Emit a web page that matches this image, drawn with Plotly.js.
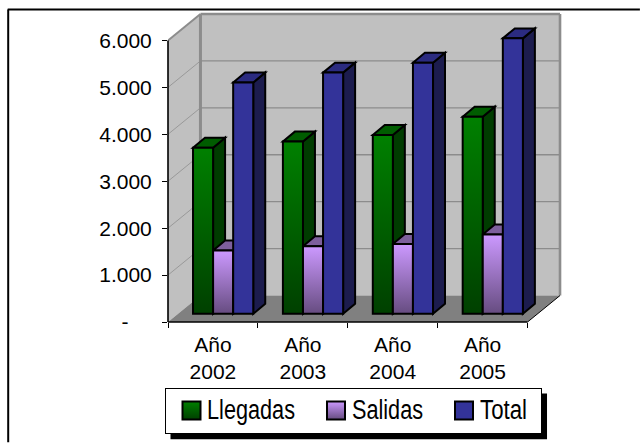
<!DOCTYPE html>
<html><head><meta charset="utf-8">
<script src="https://cdn.plot.ly/plotly-3.0.1.min.js"></script>
<style>html,body{margin:0;padding:0;background:#fff;overflow:hidden}#c{width:640px;height:443px}</style>
</head><body><div id="c"></div>
<script>
// ---- data
const categories = ['Año<br>2002','Año<br>2003','Año<br>2004','Año<br>2005'];
const llegadas = [3540, 3670, 3810, 4200];
const salidas  = [1350, 1440, 1490, 1690];
const total    = [4930, 5140, 5350, 5870];
const yTicks = [0,1000,2000,3000,4000,5000,6000];
const yTickText = ['-\u00a0\u00a0\u00a0\u00a0','1.000','2.000','3.000','4.000','5.000','6.000'];

// ---- scale of the pseudo-3D projection (pixels per axis unit)
const W=640,H=443, L=167.5, T=11, B=322.5, R=564;
const pxX=90, pxY=47/1000;
const xMax=(R-L)/pxX, yMax=(B-T)/pxY;
const ux=p=>p/pxX, uy=p=>p/pxY;
const wallDX=ux(32.5), wallDY=uy(26.5);
const base0X=ux(10.2), base0Y=uy(8.2);
const barDX=ux(12), barDY=uy(10);
const barW=ux(20.1);
const N=categories.length;
const poly=a=>'M'+a.map(p=>p[0]+','+p[1]).join('L')+'Z';
const px2x=x=>(x-L)/(R-L), px2y=y=>(B-y)/(B-T);
const shapes=[];
const dat=(path,fill,lc,lw)=>shapes.push({type:'path',xref:'x',yref:'y',layer:'below',path,fillcolor:fill||'rgba(0,0,0,0)',line:{color:lc||'rgba(0,0,0,0)',width:lw||0}});
const seg=(a,b,c,w)=>dat(poly([a,b]).replace('Z',''),null,c,w);
// walls + floor
dat(poly([[wallDX,wallDY],[wallDX+N,wallDY],[wallDX+N,6000+wallDY+0],[wallDX,6000+wallDY]]),'#c0c0c0');
dat(poly([[0,0],[wallDX,wallDY],[wallDX,6000+wallDY],[0,6000]]),'#c0c0c0');
dat(poly([[0,0],[N,0],[N+wallDX,wallDY],[wallDX,wallDY]]),'#808080');
for(const v of yTicks.slice(1,-1)){
  seg([wallDX,v+wallDY],[wallDX+N,v+wallDY],'#8c8c8c',1.3);
  seg([0,v],[wallDX,v+wallDY],'#999999',1);
}
seg([0,6000],[wallDX,6000+wallDY],'#8c8c8c',2);
seg([wallDX,wallDY],[wallDX,6000+wallDY],'#8c8c8c',3);
seg([wallDX,6000+wallDY],[wallDX+N,6000+wallDY],'#8c8c8c',2.6);
seg([wallDX+N,wallDY],[wallDX+N,6000+wallDY],'#8c8c8c',2.6);
// side and top faces of the bars, derived from the values
const series=[
 {name:'Llegadas',y:llegadas,color:'#008000',side:'#003c00',top:'#005c00'},
 {name:'Salidas', y:salidas, color:'#cc99ff',side:'#5f4a78',top:'#7d5f9c'},
 {name:'Total',   y:total,   color:'#333399',side:'#1c1c4e',top:'#2b2b80'}];
const xCenters=categories.map((c,i)=>i+0.5+base0X);
for(let i=0;i<N;i++) series.forEach((s,k)=>{
  const xl=xCenters[i]+(k-1.5)*barW, xr=xl+barW, t=base0Y+s.y[i], b=base0Y;
  dat(poly([[xr,b],[xr+barDX,b+barDY],[xr+barDX,t+barDY],[xr,t]]),s.side,'#000',2);
  dat(poly([[xl,t],[xl+barDX,t+barDY],[xr+barDX,t+barDY],[xr,t]]),s.top,'#000',2);
});
// front axis lines, outer frame, legend shadow
const ln=(x0,y0,x1,y1,c,w,layer)=>shapes.push({type:'line',xref:'paper',yref:'paper',layer,x0,y0,x1,y1,line:{color:c,width:w}});
ln(0,0,N*pxX/(R-L),0,'#000',1.6,'above');
ln(0,0,0,6000/yMax,'#000',1.6,'above');
ln(N*pxX/(R-L),0,(N+wallDX)*pxX/(R-L),wallDY/yMax,'#000',1,'above');
ln(px2x(7.5),px2y(443),px2x(7.5),px2y(9.5),'#000',2,'below');
ln(px2x(7),px2y(9.5),px2x(640),px2y(9.5),'#000',2,'below');
shapes.push({type:'rect',xref:'paper',yref:'paper',layer:'below',x0:px2x(170),x1:px2x(547),y0:px2y(440),y1:px2y(394),fillcolor:'#000',line:{width:0}});

const traces=series.map(s=>({type:'bar',name:s.name,x:xCenters,y:s.y,base:categories.map(()=>base0Y),
  marker:{color:s.color,line:{color:'#000',width:2}},hoverinfo:'y+name'}));
const font={family:'"Liberation Sans",Arial,sans-serif',size:21,color:'#000'};
const layout={width:W,height:H,margin:{l:L,r:W-R,t:T,b:H-B,pad:0,autoexpand:false},paper_bgcolor:'#fff',plot_bgcolor:'rgba(0,0,0,0)',
  barmode:'group',bargap:1-3*barW,bargroupgap:0,showlegend:true,font,shapes,
  xaxis:{type:'linear',range:[0,xMax],tickmode:'array',tickvals:categories.map((c,i)=>i+0.5),ticktext:categories,ticks:'',showgrid:false,zeroline:false,showline:false,tickfont:font,
    minor:{tickmode:'array',tickvals:[0,1,2,3,4],ticks:'outside',ticklen:5,tickwidth:1,tickcolor:'#000',showgrid:false},ticklabelstandoff:8},
  yaxis:{range:[0,yMax],tickmode:'array',tickvals:yTicks,ticktext:yTickText,ticks:'outside',ticklen:5,tickwidth:1,tickcolor:'#000',showgrid:false,zeroline:false,showline:false,tickfont:font,ticklabelstandoff:6},
  legend:{orientation:'h',x:px2x(164.5),xanchor:'left',y:px2y(388.5),yanchor:'top',bgcolor:'#fff',bordercolor:'#000',borderwidth:1,
    font:{family:'"Liberation Sans",sans-serif',size:27,color:'#000'},itemclick:false,itemdoubleclick:false}};
// legend layout: swatch centre, text start, text width (px)
const legendSwatch=[191.5,336,464], legendText=[207,352,480], legendTextW=[88,71,47];
const legendLeft=165, legendWidth=376, legendHeight=45;
Plotly.newPlot('c',traces,layout,{displayModeBar:false,staticPlot:true}).then(gd=>{
  const svg=gd.querySelector('.main-svg');
  const NS='http://www.w3.org/2000/svg';
  let defs=svg.querySelector('defs');
  const grads=[['gr0','#008000','#004000'],['gr1','#cc99ff','#664c80']];
  grads.forEach(g=>{const lg=document.createElementNS(NS,'linearGradient');lg.id=g[0];lg.setAttribute('x1','0');lg.setAttribute('y1','0');lg.setAttribute('x2','0');lg.setAttribute('y2','1');
    [[0,g[1]],[1,g[2]]].forEach(st=>{const e=document.createElementNS(NS,'stop');e.setAttribute('offset',st[0]);e.setAttribute('stop-color',st[1]);lg.appendChild(e);});defs.appendChild(lg);});
  gd.querySelectorAll('.barlayer .trace').forEach((t,i)=>{if(i<2)t.querySelectorAll('path').forEach(p=>p.style.fill='url(#gr'+i+')');});
  const leg=gd.querySelector('.legend');
  const bg=leg.querySelector('.bg');bg.setAttribute('width',legendWidth);bg.setAttribute('height',legendHeight);
  const sb=leg.querySelector('.scrollbox');sb.removeAttribute('clip-path');
  leg.querySelectorAll('.traces').forEach((t,i)=>{
    t.setAttribute('transform','translate(0,22.5)');
    t.querySelectorAll('.legendpoints path').forEach(p=>{p.setAttribute('d','M9,9H-9V-9H9Z');p.setAttribute('transform','translate('+(legendSwatch[i]-legendLeft)+',0)');p.style.strokeWidth='2px';p.style.stroke='#000';if(i<2)p.style.fill='url(#gr'+i+')';});
    const tx=t.querySelector('text');
    tx.setAttribute('x',legendText[i]-legendLeft);tx.setAttribute('y',9);
    tx.setAttribute('textLength',legendTextW[i]);tx.setAttribute('lengthAdjust','spacingAndGlyphs');
  });
});
</script></body></html>
